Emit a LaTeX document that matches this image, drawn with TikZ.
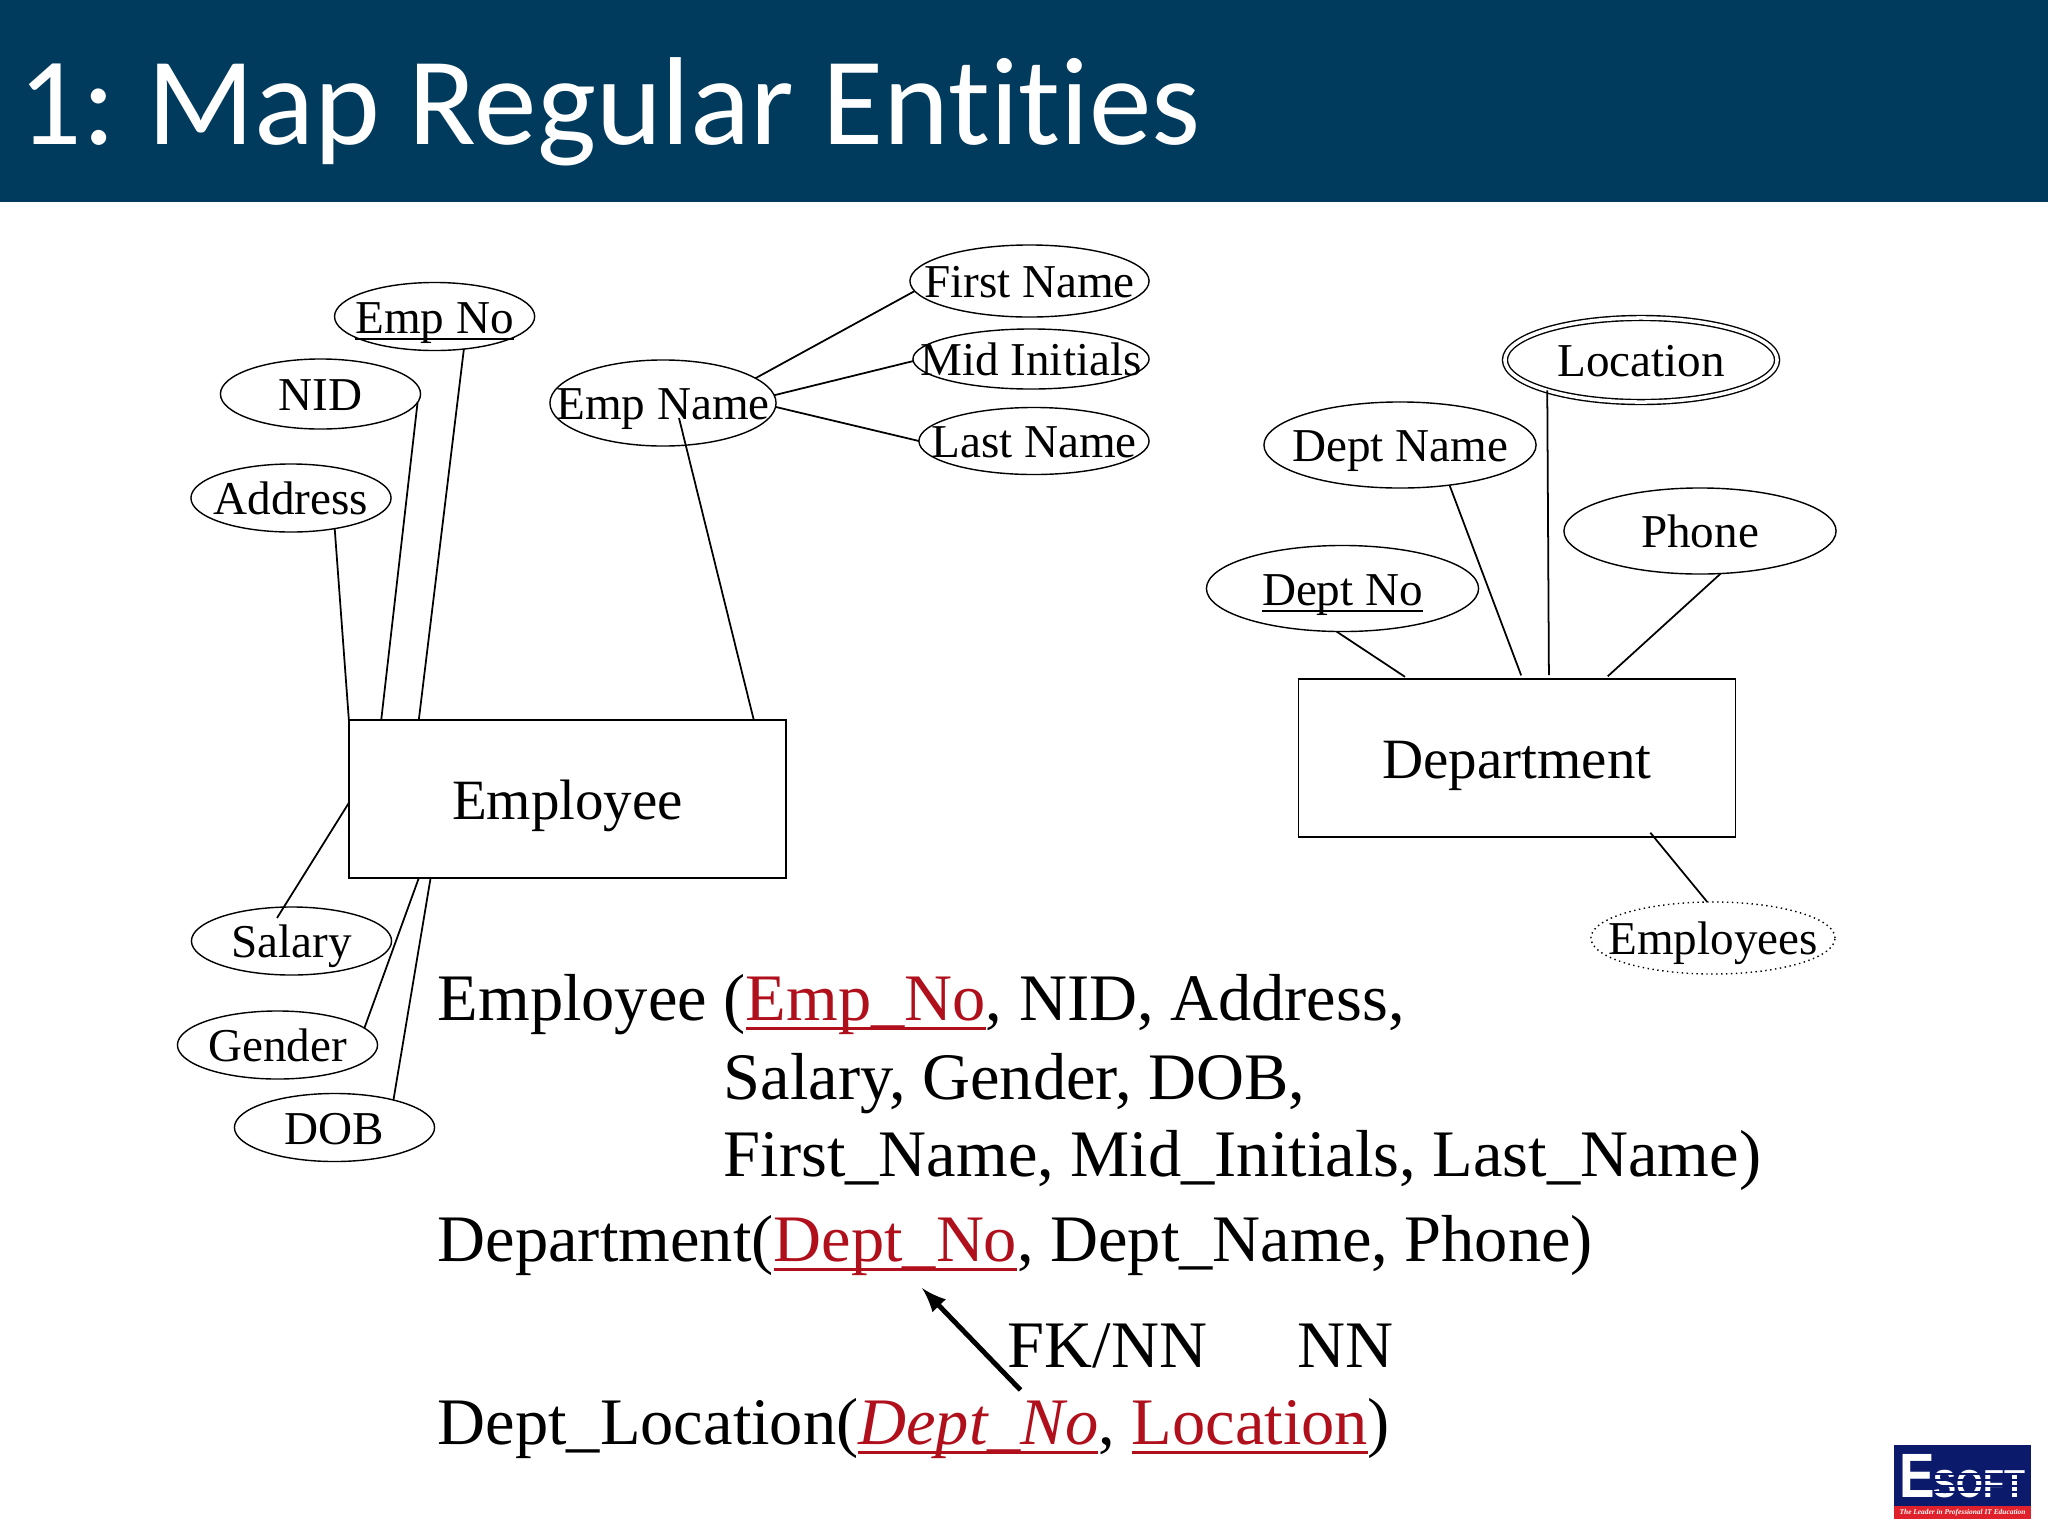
\documentclass[tikz,border=0pt]{standalone}
\usepackage{fontspec}
\setmainfont{Liberation Serif}
\newfontfamily\titlefont[Ligatures=NoCommon]{Carlito}
\newfontfamily\logofont{Liberation Sans}
\usetikzlibrary{shapes,arrows,positioning}
\definecolor{headblue}{HTML}{003A5C}
\definecolor{keyred}{HTML}{B0101C}
\definecolor{logonavy}{HTML}{0B1A6B}
\definecolor{logored}{HTML}{E0202A}
\newcommand{\attrtext}[1]{\raisebox{-0.165cm}[0pt][0pt]{\makebox[0pt]{#1}}}
\newcommand{\entitytext}[1]{\raisebox{-0.205cm}[0pt][0pt]{\makebox[0pt]{#1}}}
\newcommand{\barunder}[1]{\setbox0\hbox{#1}\rlap{\rule[-1.9pt]{\wd0}{0.5pt}}\box0}
\newcommand{\keyattr}[1]{\textcolor{keyred}{\setbox0\hbox{#1}\rlap{\rule[-2.9pt]{\wd0}{0.9pt}}\box0}}
\tikzstyle{attr}=[ellipse,draw,inner sep=0pt,outer sep=0pt,minimum width=2cm,minimum height=0.68cm,font=\fontsize{13.4}{15}\selectfont]
\tikzstyle{wideattr}=[attr,minimum width=2.72cm,minimum height=0.86cm]
\tikzstyle{entity}=[rectangle,draw,inner sep=0pt,outer sep=0pt,minimum width=4.37cm,minimum height=1.58cm,font=\fontsize{16.2}{18}\selectfont]
\tikzstyle{rel}=[anchor=base west,inner sep=0pt,font=\fontsize{18.9}{21}\selectfont]
\tikzstyle{conn}=[line width=0.5pt]

\begin{document}
\begin{tikzpicture}[x=0.01cm,y=-0.01cm]
\useasboundingbox (0,0) rectangle (2048,1536);
\fill[headblue] (0,0) rectangle (2048,202);
\node[anchor=base west,inner sep=0pt,text=white,font=\titlefont\fontsize{35.6}{38}\selectfont] (title) at (18,144) {1:\kern1.1pt\ Map Regular Entities};
% employee side
\node[entity] (Emp) at (567.5,799) {\entitytext{Employee}};
\node[attr] (EmpNo) at (434.6,316.5) {\attrtext{\barunder{Emp No}}};
\node[attr,minimum height=0.7cm] (NID) at (320.5,394) {\attrtext{NID}};
\node[attr] (Addr) at (291,498) {\attrtext{Address}};
\node[attr,minimum width=2.26cm,minimum height=0.86cm] (EmpName) at (663,403) {\attrtext{Emp Name}};
\node[attr,minimum width=2.39cm,minimum height=0.72cm] (First) at (1029.5,281) {\attrtext{First Name}};
\node[attr,minimum width=2.36cm,minimum height=0.6cm] (Mid) at (1031,359) {\attrtext{Mid Initials}};
\node[attr,minimum width=2.3cm,minimum height=0.67cm] (Last) at (1034,441) {\attrtext{Last Name}};
\node[attr] (Salary) at (291.5,941) {\attrtext{Salary}};
\node[attr] (Gender) at (277.5,1045) {\attrtext{Gender}};
\node[attr] (DOB) at (334.5,1127.5) {\attrtext{DOB}};
\coordinate (EmpNameIn) at (679,418);
\coordinate (SalaryIn) at (277,918);
\draw[conn] (EmpNo.-48) -- (Emp.152);
\draw[conn] (NID.-5) -- (Emp.157.95);
\draw[conn] (Addr.-35.5) -- (Emp.north west);
\draw[conn] (EmpNameIn) -- (Emp.23.95);
\draw[conn] (EmpName.15.5) -- (First.185.3);
\draw[conn] (EmpName.4) -- (Mid.181.8);
\draw[conn] (EmpName.-2.5) -- (Last.180);
\draw[conn] (Emp.181.8) -- (SalaryIn);
\draw[conn] (Emp.208) -- (Gender.11);
\draw[conn] (Emp.210.6) -- (DOB.25);
% department side
\node[entity] (Dept) at (1517,758) {\entitytext{Department}};
\node[wideattr] (DeptNo) at (1342.5,588.5) {\attrtext{\barunder{Dept No}}};
\node[wideattr] (DeptName) at (1400,445) {\attrtext{Dept Name}};
\node[wideattr] (Phone) at (1700,531) {\attrtext{Phone}};
\node[attr,minimum width=2.72cm,minimum height=0.84cm,double,double distance=1pt] (Loc) at (1641,360) {\attrtext{Location}};
\node[attr,minimum width=2.44cm,minimum height=0.72cm,densely dotted] (Staff) at (1713,938) {\attrtext{Employees}};
\draw[conn,shorten >=1.1pt] (DeptNo.-98.6) -- (Dept.144.1);
\draw[conn,shorten >=1.1pt] (DeptName.-39.6) -- (Dept.86.7);
\draw[conn,shorten >=1.1pt] (Loc.198.6) -- (Dept.68);
\draw[conn,shorten >=1.1pt] (Phone.-64.9) -- (Dept.42.3);
\draw[conn,shorten <=-1.6pt] (Dept.-30.7) -- (Staff.99.5);
% relations
\node[rel] (R1) at (437,1020) {Employee (\keyattr{Emp\_No}, NID, Address,};
\node[rel] (R2) at (723,1099) {Salary, Gender, DOB,};
\node[rel] (R3) at (723,1176) {First\_Name, Mid\_Initials, Last\_Name)};
\node[rel] (R4) at (437,1261) {Department(\keyattr{Dept\_No}, Dept\_Name, Phone)};
\node[rel] (R5) at (437,1444) {Dept\_Location(\textit{\keyattr{Dept\_No}}, \keyattr{Location})};
\node[rel] (FK) at (1007,1367) {FK/NN};
\node[rel] (NN) at (1297,1367) {NN};
\coordinate (FKtail) at (1020.5,1390);
\coordinate (FKtip) at (922,1288);
\draw[-latex,line width=1.4pt] (FKtail) -- (FKtip);
% logo
\fill[logonavy] (1894,1445) rectangle (2031,1506);
\fill[logored] (1894,1506) rectangle (2031,1519);
\node[anchor=base west,inner sep=0pt,text=white,font=\logofont\bfseries\fontsize{17.8}{20}\selectfont] (LogoE) at (1899,1497) {\scalebox{0.85}[1]{E}};
\node[anchor=base west,inner sep=0pt,text=white,font=\logofont\bfseries\fontsize{11.1}{13}\selectfont] (LogoS) at (1933,1497) {\scalebox{0.88}[1]{SOFT}};
\draw[logonavy,line width=0.4pt] (1933,1474) -- (2027,1474) (1933,1480) -- (2027,1480) (1933,1486) -- (2027,1486) (1933,1492) -- (2027,1492);
\node[inner sep=0pt,text=white,font=\bfseries\itshape\fontsize{2.1}{3}\selectfont] (LogoT) at (1962.5,1512.5) {The Leader in Professional IT Education};
\end{tikzpicture}
\end{document}
